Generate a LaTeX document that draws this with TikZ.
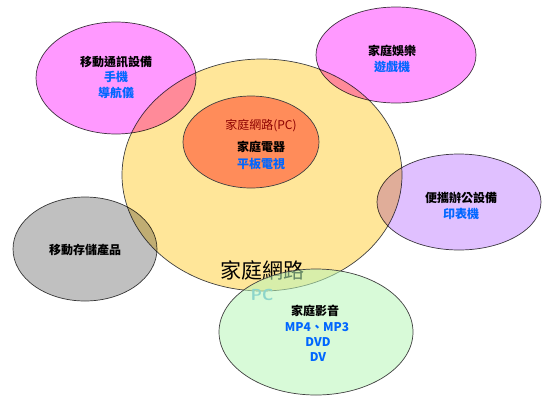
\documentclass[tikz,border=0pt]{standalone}
\usepackage{fontspec}
\setmainfont{Noto Sans CJK TC}
\definecolor{pinkf}{RGB}{255,153,255}
\definecolor{yellowf}{RGB}{255,230,153}
\definecolor{orangef}{RGB}{255,140,90}
\definecolor{purplef}{RGB}{224,192,255}
\definecolor{grayf}{RGB}{192,192,192}
\definecolor{greenf}{RGB}{184,246,184}
\definecolor{bluet}{RGB}{0,102,255}
\definecolor{redt}{RGB}{140,0,0}
\definecolor{pct}{RGB}{90,175,225}
\tikzset{
  blob/.style={draw=black!75, line width=0.7pt},
  title/.style={font=\fontsize{12}{13}\selectfont\bfseries, text=black, inner sep=0pt},
  item/.style={font=\fontsize{12}{13}\selectfont\bfseries, text=bluet, inner sep=0pt},
}
\begin{document}
\begin{tikzpicture}[x=1pt,y=-1pt]
\useasboundingbox (0,0) rectangle (556,402);
% main ellipses
\path[blob, fill=yellowf] (262,175) ellipse [x radius=140, y radius=116];
\path[blob, fill=orangef] (251,142) ellipse [x radius=68, y radius=46];
\node[font=\fontsize{21}{22}\selectfont, inner sep=0pt] (bigt) at (262,270) {家庭網路};
\node[font=\fontsize{16}{17}\selectfont\bfseries\sffamily, text=pct, inner sep=0pt] (pc) at (262,295) {PC};
\begin{scope}[blend mode=multiply]
\path[blob, fill=pinkf] (116,78) ellipse [x radius=80, y radius=56];
\path[blob, fill=pinkf] (396,55) ellipse [x radius=80, y radius=48];
\path[blob, fill=purplef] (459,202) ellipse [x radius=82, y radius=48];
\path[blob, fill=grayf] (85,249) ellipse [x radius=72, y radius=52];
\end{scope}
\path[blob, fill=greenf, fill opacity=0.55] (316,332) ellipse [x radius=97, y radius=63];
% texts
\node[font=\fontsize{12}{13}\selectfont, text=redt, inner sep=0pt] (net) at (261,126) {家庭網路(PC)};
\node[title] (app) at (261,147) {家庭電器};
\node[item] (tv) at (261,164) {平板電視};
\node[title] (mob) at (116,62) {移動通訊設備};
\node[item] (ph) at (116,77) {手機};
\node[item] (nav) at (116,93) {導航儀};
\node[title] (ent) at (392,51) {家庭娛樂};
\node[item] (game) at (392,67) {遊戲機};
\node[title] (off) at (461,198) {便攜辦公設備};
\node[item] (prn) at (461,214) {印表機};
\node[title] (sto) at (85,250) {移動存儲產品};
\node[title] (av) at (315,311) {家庭影音};
\node[item] (mp) at (317,327) {MP4、MP3};
\node[item] (dvd) at (318,342) {DVD};
\node[item] (dv) at (318,357) {DV};
\end{tikzpicture}
\end{document}
